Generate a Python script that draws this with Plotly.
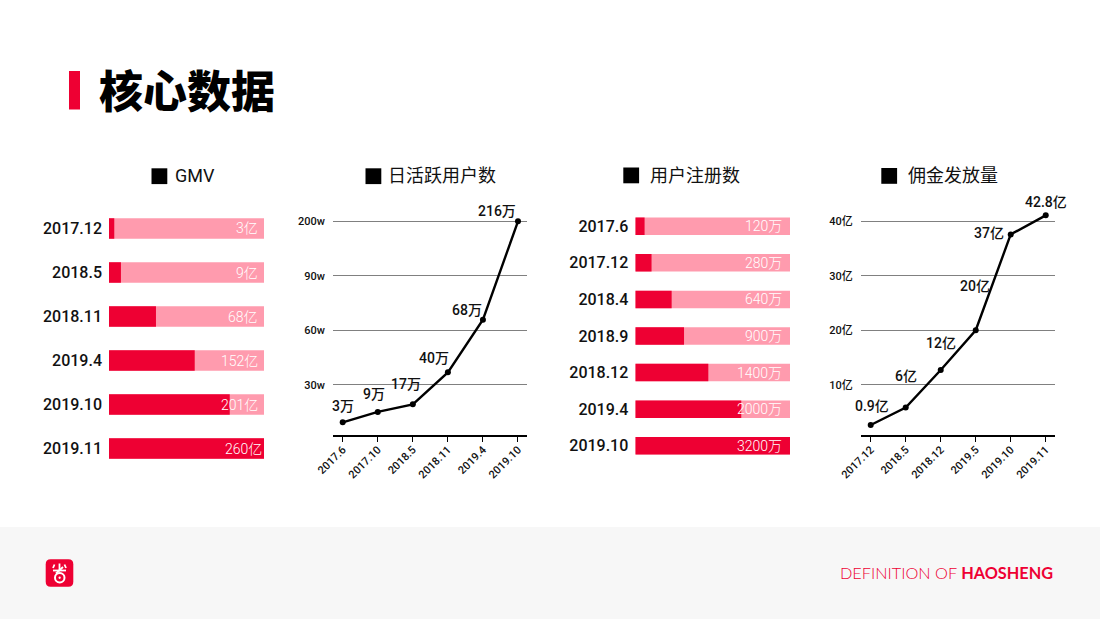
import plotly.graph_objects as go

############################### DATA ###############################

gmv_dates = ["2017.12", "2018.5", "2018.11", "2019.4", "2019.10", "2019.11"]
gmv_fill = [3.4, 7.7, 30.3, 55.3, 77.9, 100]
gmv_text = ["3亿", "9亿", "68亿", "152亿", "201亿", "260亿"]

dau_dates = ["2017.6", "2017.10", "2018.5", "2018.11", "2019.4", "2019.10"]
dau_values = [9.3, 15, 19.2, 36.8, 65.8, 120]
dau_text = ["3万", "9万", "17万", "40万", "68万", "216万"]
dau_ticks = [30, 60, 90, 120]
dau_ticktext = ["30w", "60w", "90w", "200w"]

reg_dates = ["2017.6", "2017.12", "2018.4", "2018.9", "2018.12", "2019.4", "2019.10"]
reg_fill = [6.0, 10.5, 23.5, 31.5, 47.2, 68.5, 100]
reg_text = ["120万", "280万", "640万", "900万", "1400万", "2000万", "3200万"]

comm_dates = ["2017.12", "2018.5", "2018.12", "2019.5", "2019.10", "2019.11"]
comm_values = [2.6, 5.8, 12.7, 20, 37.6, 41.1]
comm_text = ["0.9亿", "6亿", "12亿", "20亿", "37亿", "42.8亿"]
comm_ticks = [10, 20, 30, 40]
comm_ticktext = ["10亿", "20亿", "30亿", "40亿"]

############################### STYLE ###############################

W, H = 1100, 619
RED = "#EE0033"
PINK = "#FF9BAE"
FONT = "Roboto, Noto Sans CJK SC"
CJK = "Noto Sans CJK SC"


def px_x(x):
    return x / W


def px_y(y):
    return 1 - y / H


fig = go.Figure()
layout = {}
annotations = []
shapes = []


def axis_ids(n):
    # first pair of axes is plain x / y
    return ("x", "y") if n == 1 else (f"x{n}", f"y{n}")


#################### Bar panels #####################


def add_bar_panel(n, dates, fill, text, x0, x1, y0, y1, bar_w, text_shift):
    xa, ya = axis_ids(n)
    # pale track first, red share on top
    fig.add_trace(
        go.Bar(y=dates, x=[100] * len(dates), orientation="h", width=bar_w,
               marker=dict(color=PINK, line_width=0), xaxis=xa, yaxis=ya,
               hoverinfo="skip", showlegend=False)
    )
    fig.add_trace(
        go.Bar(y=dates, x=fill, orientation="h", width=bar_w,
               marker=dict(color=RED, line_width=0), xaxis=xa, yaxis=ya,
               showlegend=False)
    )
    layout[f"xaxis{n}"] = dict(domain=[px_x(x0), px_x(x1)], range=[0, 100], visible=False,
                               anchor=ya, fixedrange=True, automargin=False)
    layout[f"yaxis{n}"] = dict(domain=[px_y(y1), px_y(y0)], type="category", automargin=False,
                               range=[len(dates) - 0.5, -0.5], anchor=xa, showgrid=False,
                               showline=False, ticks="", ticklabelstandoff=6, fixedrange=True,
                               tickfont=dict(family=FONT, size=16, color="#111111", weight=500))
    for i, (t, f) in enumerate(zip(text, fill)):
        annotations.append(dict(
            x=100, y=i, xref=xa, yref=ya, text=t, showarrow=False, xanchor="right",
            xshift=text_shift + (4 if f == 100 and text_shift == -4 else 0),
            font=dict(family=FONT, size=14, color="white", weight=300),
        ))


#################### Line panels #####################


def add_line_panel(n, dates, values, text, ticks, ticktext, x0, x1, xrange, yrange, shifts):
    xa, ya = axis_ids(n)
    fig.add_trace(
        go.Scatter(x=dates, y=values, mode="lines+markers", xaxis=xa, yaxis=ya,
                   line=dict(color="black", width=2.4), marker=dict(color="black", size=6),
                   showlegend=False)
    )
    layout[f"xaxis{n}"] = dict(domain=[px_x(x0), px_x(x1)], type="category", range=xrange,
                               anchor=ya, showgrid=False, showline=True, linecolor="black",
                               linewidth=2, ticks="outside", ticklen=5, tickwidth=1,
                               tickcolor="black", tickangle=-45, fixedrange=True, automargin=False,
                               ticklabelstandoff=-3,
                               tickfont=dict(family=FONT, size=11, color="#111111", weight=500))
    layout[f"yaxis{n}"] = dict(domain=[px_y(435), px_y(205)], range=yrange, anchor=xa,
                               tickvals=ticks, ticktext=ticktext, showgrid=True, automargin=False,
                               gridcolor="#808080", gridwidth=1, zeroline=False, showline=False,
                               ticks="", ticklabelstandoff=7, fixedrange=True,
                               tickfont=dict(family=FONT, size=11, color="#111111", weight=500))
    for i, (v, t, (sx, sy)) in enumerate(zip(values, text, shifts)):
        annotations.append(dict(
            x=i, y=v, xref=xa, yref=ya, text=t, showarrow=False, xshift=sx, yshift=sy,
            font=dict(family=FONT, size=14, color="#111111", weight=500),
        ))


add_bar_panel(1, gmv_dates, gmv_fill, gmv_text, 109, 264, 206.5, 470.5, 0.468, -4)
add_line_panel(2, dau_dates, dau_values, dau_text, dau_ticks, dau_ticktext, 333, 527,
               [-0.277, 5.257], [2.3, 129],
               [(0.6, 16.6), (-3.7, 17.7), (-7.3, 20.3), (-13.7, 14), (-16.3, 9.7), (-20.7, 10.3)])
add_bar_panel(3, reg_dates, reg_fill, reg_text, 635.3, 790, 208, 464, 0.478, -6)
add_line_panel(4, comm_dates, comm_values, comm_text, comm_ticks, comm_ticktext, 860.7, 1055,
               [-0.286, 5.265], [0.77, 43],
               [(1.6, 19), (0, 32), (0, 27.3), (-0.7, 44.3), (-21.7, 1.6), (0, 13)])


#################### Page furniture #####################


def paper_rect(x0, y0, x1, y1, color):
    shapes.append(dict(type="rect", xref="paper", yref="paper", x0=px_x(x0), x1=px_x(x1),
                       y0=px_y(y1), y1=px_y(y0), fillcolor=color, line_width=0, layer="below"))


def paper_text(x, y, text, size, color="black", family=CJK, anchor="left", weight=None):
    font = dict(family=family, size=size, color=color)
    if weight:
        font["weight"] = weight
    annotations.append(dict(x=px_x(x), y=px_y(y), xref="paper", yref="paper", text=text,
                            showarrow=False, xanchor=anchor, yanchor="middle", font=font))


# footer band
paper_rect(0, 527, W, H, "#F7F7F7")

# page title
paper_rect(69, 71, 80, 109.5, RED)
paper_text(97, 89, "核心数据", 44, weight=900)

# panel titles
for sq_x, sq_y, tx, label in [
    (151.5, 168.3, 173, "GMV"),
    (365.5, 168.3, 386, "日活跃用户数"),
    (623.3, 167.5, 648, "用户注册数"),
    (881.3, 168.0, 906, "佣金发放量"),
]:
    shapes.append(dict(type="rect", xref="paper", yref="paper", x0=px_x(sq_x), x1=px_x(sq_x + 15.8),
                       y0=px_y(sq_y + 15.8), y1=px_y(sq_y), fillcolor="black", line_width=0))
    paper_text(tx, 175.5, label, 18, color="#111111", family=FONT)

# logo, a rounded square with the white mark drawn over it
x0, x1, y0, y1, r = px_x(45.7), px_x(73.3), px_y(586.7), px_y(559.3), 5
rx, ry = r / W, r / H
shapes.append(dict(
    type="path", xref="paper", yref="paper", fillcolor=RED, line_width=0,
    path=(f"M{x0 + rx},{y0} L{x1 - rx},{y0} Q{x1},{y0} {x1},{y0 + ry} L{x1},{y1 - ry} "
          f"Q{x1},{y1} {x1 - rx},{y1} L{x0 + rx},{y1} Q{x0},{y1} {x0},{y1 - ry} "
          f"L{x0},{y0 + ry} Q{x0},{y0} {x0 + rx},{y0} Z"),
))
shapes.append(dict(type="circle", xref="paper", yref="paper", x0=px_x(55), x1=px_x(64.5),
                   y0=px_y(582.5), y1=px_y(573), line=dict(color="white", width=2)))
shapes.append(dict(type="circle", xref="paper", yref="paper", x0=px_x(58.5), x1=px_x(60.8),
                   y0=px_y(578.9), y1=px_y(576.6), fillcolor="white", line_width=0))
for a, b, c, d in [(53, 570.5, 66, 570.5), (59.5, 563.5, 59.5, 570.5),
                   (54.5, 564.5, 53, 568), (64.5, 564.5, 66, 568), (56, 573.5, 63, 567)]:
    shapes.append(dict(type="line", xref="paper", yref="paper", x0=px_x(a), x1=px_x(c),
                       y0=px_y(b), y1=px_y(d), line=dict(color="white", width=1.8)))

# footer text
paper_text(1055, 572.7, "DEFINITION OF <b>HAOSHENG</b>", 16.3, color=RED, family="Lato",
           anchor="right", weight=300)

fig.update_layout(
    width=W,
    height=H,
    margin=dict(l=0, r=0, t=0, b=0),
    paper_bgcolor="white",
    plot_bgcolor="rgba(0,0,0,0)",
    barmode="overlay",
    showlegend=False,
    annotations=annotations,
    shapes=shapes,
    **layout,
)

fig.write_html("out.html", config=dict(displayModeBar=False),
               post_script="document.body.style.margin='0';")
